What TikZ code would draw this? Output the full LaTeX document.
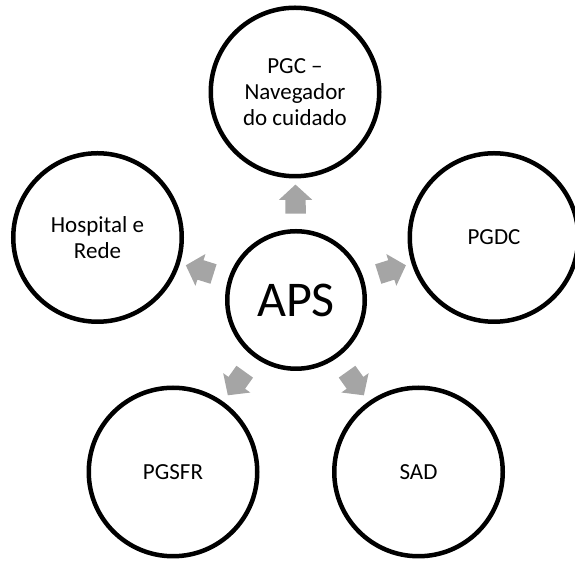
\documentclass[tikz,border=0pt]{standalone}
\usepackage{fontspec}
\setmainfont{Carlito}
\usetikzlibrary{calc,shapes.arrows}
\definecolor{arrowgray}{HTML}{A5A5A5}
\tikzset{
  outercircle/.style={circle, draw=black, line width=4.5pt, fill=white,
    minimum size=168.5pt, inner sep=0pt, align=center,
    font=\fontsize{23}{26}\selectfont},
  hubcircle/.style={circle, draw=black, line width=4.5pt, fill=white,
    minimum size=137.5pt, inner sep=0pt,
    font=\fontsize{50}{60}\selectfont},
  blockarrow/.style={single arrow, fill=arrowgray, draw=none,
    minimum height=29pt, minimum width=33pt, single arrow head extend=6.5pt,
    inner xsep=0pt, inner ysep=10pt, single arrow tip angle=95},
}
\newcommand\linkarrow[2]{%
  \path ($(#1)!71pt!(#2)$) coordinate (tmpA) ($(#2)!86.5pt!(#1)$) coordinate (tmpB);
  \path let \p1=($(#2)-(#1)$), \n1={atan2(\y1,\x1)} in
    node[blockarrow, rotate=\n1] at ($(tmpA)!0.5!(tmpB)$) {};}
\begin{document}
\begin{tikzpicture}[x=1pt,y=1pt]
\useasboundingbox (0,0) rectangle (575,561);
\node[hubcircle] (aps) at (296,261) {APS};
\node[outercircle] (pgc) at (295,469) {PGC –\\Navegador\\do cuidado};
\node[outercircle] (pgdc) at (494,323.5) {PGDC};
\node[outercircle] (hosp) at (97.5,323.5) {Hospital e\\Rede};
\node[outercircle] (pgsfr) at (173,89) {PGSFR};
\node[outercircle] (sad) at (418.5,89) {SAD};
\linkarrow{aps}{pgc}
\linkarrow{aps}{pgdc}
\linkarrow{aps}{hosp}
\linkarrow{aps}{pgsfr}
\linkarrow{aps}{sad}
\end{tikzpicture}
\end{document}
